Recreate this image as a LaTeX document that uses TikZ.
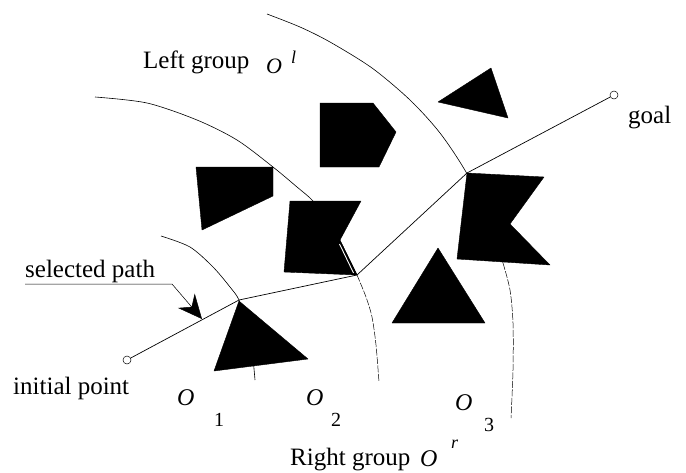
\documentclass[tikz,border=0pt]{standalone}
\usepackage{fontspec}
\setmainfont{Liberation Serif}
\usetikzlibrary{arrows.meta}
\begin{document}
\begin{tikzpicture}[x=1pt,y=-1pt,
  obst/.style={fill=black,draw=black,line width=0.4pt,line join=round},
  arcline/.style={line width=0.6pt},
  faintarc/.style={line width=0.5pt,dash pattern=on 7pt off 1.5pt},
  pathline/.style={line width=0.7pt},
  endpt/.style={circle,draw,line width=0.5pt,minimum size=8pt,inner sep=0pt,fill=white},
  lbltext/.style={font=\fontsize{25}{30}\selectfont,inner sep=0pt,anchor=base west},
  symtext/.style={font=\fontsize{24}{28}\selectfont\itshape,inner sep=0pt,anchor=base west},
  idxtext/.style={font=\fontsize{20}{24}\selectfont,inner sep=0pt,anchor=base west},
  suptext/.style={font=\fontsize{18}{22}\selectfont\itshape,inner sep=0pt,anchor=base west},
  leader/.style={line width=0.5pt}
]
\useasboundingbox (0,0) rectangle (686,472);

% boundary arcs (under the obstacles)
\draw[arcline] plot[smooth] coordinates {(161,236) (190,247) (213,267) (230,287) (239,300) (247,325) (252,350) (255,380)};
\draw[arcline] plot[smooth] coordinates {(95,97) (147,103) (197,120) (237,140) (273,167) (297,187) (312,200) (328,220) (341,243) (357,275)};
\draw[faintarc] plot[smooth] coordinates {(357,275) (366,297) (372,317) (376,345) (379,382)};
\draw[arcline] plot[smooth] coordinates {(267,14) (300,27) (330,42) (372,68) (410,100) (440,133) (466,172) (487,215) (503,263)};
\draw[faintarc] plot[smooth] coordinates {(503,263) (510,290) (513,323) (513,370) (511,418)};

% obstacles
\fill[obst] (320,103) -- (373,103) -- (396,132) -- (379,167) -- (320,167) -- cycle;
\fill[obst] (196,167) -- (273,167) -- (273,196) -- (202,230) -- cycle;
\fill[obst] (290,201) -- (361,201) -- (340,240) -- (357,275) -- (284,272) -- cycle;
\fill[obst] (467,173) -- (544,177) -- (510,224) -- (550,265) -- (457,259) -- cycle;
\fill[obst] (438,248) -- (392,323) -- (485,323) -- cycle;
\fill[obst] (491,68) -- (438,102) -- (508,118) -- cycle;
\fill[obst] (239,301) -- (308,359) -- (214,371) -- cycle;
\draw[white,line width=0.9pt] (339.5,244) -- (353.5,273);

% selected path
\node[endpt] (ip) at (127,360) {};
\node[endpt] (goal) at (614,95) {};
\coordinate (v1) at (239,300);
\coordinate (v2) at (357,275);
\coordinate (v3) at (467,173);
\draw[pathline] (ip) -- (v1) -- (v2) -- (v3) -- (goal);

% leader arrow
\coordinate (ld0) at (25,284);
\coordinate (ld1) at (172,284);
\coordinate (tip) at (202,319);
\draw[leader,-{Stealth[length=24pt,width=22pt,inset=8pt]}] (ld0) -- (ld1) -- (tip);

% labels
\node[lbltext] (lg) at (143,68) {Left group};
\node[symtext,font=\fontsize{22}{26}\selectfont\itshape] (ol) at (266,73) {O};
\node[suptext] (l) at (291,63) {l};
\node[lbltext] (gl) at (628,123) {goal};
\node[lbltext] (sp) at (25,277) {selected path};
\node[lbltext] (ipt) at (13,394) {initial point};
\node[symtext] (o1) at (177,405) {O};
\node[idxtext] (n1) at (214,426) {1};
\node[symtext] (o2) at (306,405) {O};
\node[idxtext] (n2) at (331,426) {2};
\node[symtext] (o3) at (455,410) {O};
\node[idxtext] (n3) at (484,431) {3};
\node[lbltext] (rg) at (290,465) {Right group};
\node[symtext] (or) at (420,466) {O};
\node[suptext] (r) at (451,448) {r};
\end{tikzpicture}
\end{document}
